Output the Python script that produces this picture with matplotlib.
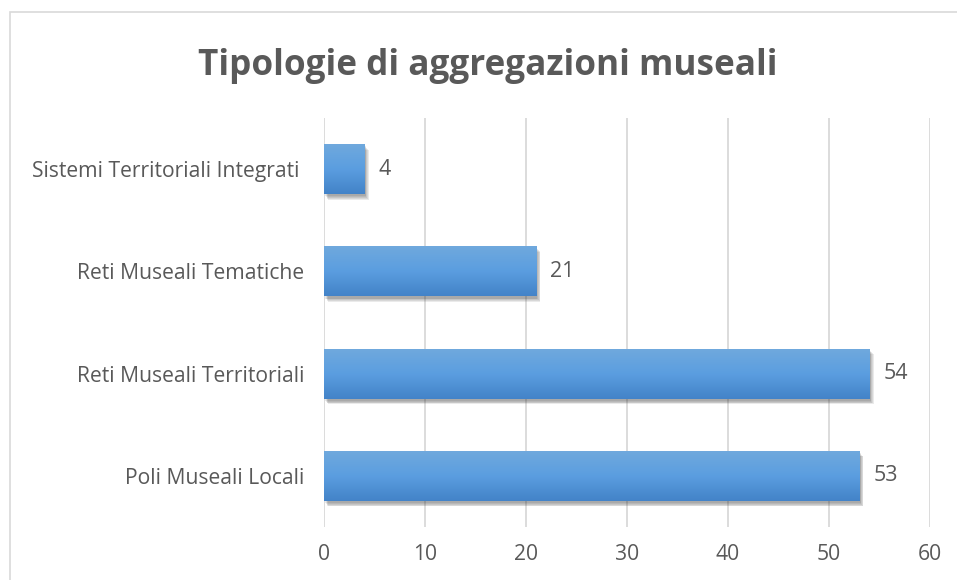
import numpy as np
import matplotlib
matplotlib.use("Agg")
import matplotlib.pyplot as plt
import matplotlib.patheffects as pe
from matplotlib.patches import Rectangle

categories = ["Poli Museali Locali", "Reti Museali Territoriali",
              "Reti Museali Tematiche", "Sistemi Territoriali Integrati "]
values = [53, 54, 21, 4]
xticks = [0, 10, 20, 30, 40, 50, 60]

plt.rcParams['font.family'] = ['Open Sans', 'DejaVu Sans']
text_col = '#595959'

fig = plt.figure(figsize=(9.57, 5.80), dpi=100)
# outer chart border (runs off right and bottom edges)
fig.patches.append(Rectangle((9.5 / 957, -0.05), 1.2, 1 - 11.5 / 580 + 0.05,
                             transform=fig.transFigure, fill=False,
                             edgecolor='#d9d9d9', linewidth=1.2))

ax = fig.add_axes([324 / 957, 53 / 580, 606 / 957, 409 / 580])
y = np.arange(len(categories))
bars = ax.barh(y, values, height=0.49, color='#5b9bd5', zorder=3)

# gradient fill + soft shadow on each bar
grad = np.linspace(0, 1, 100).reshape(-1, 1)
cmap = matplotlib.colors.LinearSegmentedColormap.from_list(
    'g', ['#4383c8', '#5b9ee0', '#70a9dd'])
shadows = []
for k in range(1, 6):
    shadows.append(pe.SimplePatchShadow(offset=(0.5 + k * 0.5, -1 - k * 0.6),
                                        alpha=0.09, shadow_rgbFace='#202020'))
for b in bars:
    b.set_path_effects(shadows + [pe.Normal()])
    x0, y0 = b.get_x(), b.get_y()
    w, h = b.get_width(), b.get_height()
    im = ax.imshow(grad, extent=[x0, x0 + w, y0, y0 + h], aspect='auto',
                   cmap=cmap, origin='lower', zorder=4)
    im.set_clip_path(b)

for yi, v in zip(y, values):
    ax.text(v + 1.4, yi, str(v), va='center', ha='left', fontsize=15.5,
            color=text_col)

ax.set_xlim(0, 60)
ax.set_ylim(-0.5, len(categories) - 0.5)
ax.set_xticks(xticks)
ax.set_xticklabels([str(t) for t in xticks])
ax.set_yticks(y)
ax.set_yticklabels(categories)
ax.tick_params(axis='both', length=0, labelsize=15.2, colors=text_col)
ax.tick_params(axis='x', pad=12)
ax.tick_params(axis='y', pad=14)
ax.grid(axis='x', color='#d9d9d9', linewidth=1.3, zorder=0)
for s in ax.spines.values():
    s.set_visible(False)

fig.text(0.51, 0.886, "Tipologie di aggregazioni museali", ha='center',
         va='center', fontsize=25.3, fontweight='bold', color=text_col)

fig.savefig("out.png", dpi=100)
